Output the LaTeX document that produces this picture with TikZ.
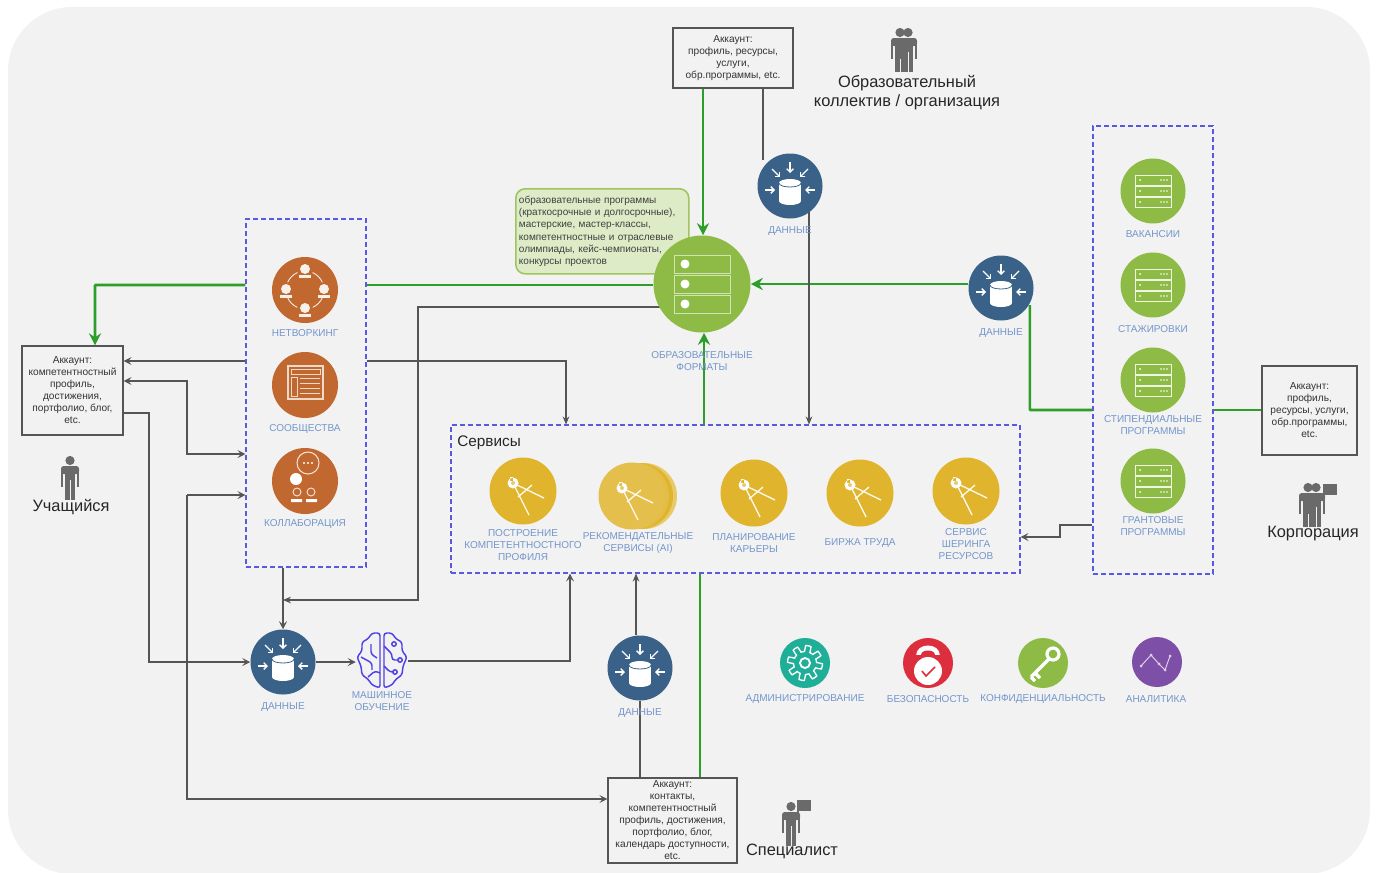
\documentclass[tikz,border=0pt]{standalone}
\usepackage{fontspec}
\setmainfont{Liberation Sans}
\usetikzlibrary{arrows.meta,backgrounds,calc}
\definecolor{bgc}{HTML}{F2F2F2}
\definecolor{gln}{HTML}{2E9E2A}
\definecolor{gry}{HTML}{555555}
\definecolor{lab}{HTML}{7396CC}
\definecolor{dsh}{HTML}{5A5AE0}
\definecolor{orng}{HTML}{C0682F}
\definecolor{yel}{HTML}{E0B42C}
\definecolor{grn}{HTML}{8DBB45}
\definecolor{blu}{HTML}{3A6187}
\definecolor{icog}{HTML}{6A6A6A}
\definecolor{brn}{HTML}{5040E8}
\definecolor{tealc}{HTML}{1FAE97}
\definecolor{redc}{HTML}{DC2E3C}
\definecolor{vio}{HTML}{7E4FA6}
\tikzset{
 x=0.75pt,y=-0.75pt,
 account/.style={draw=gry,line width=.9pt,fill=bgc,font=\fontsize{7.6}{9}\selectfont,text=black!80,align=center,inner sep=0pt},
 zone/.style={draw=dsh,line width=.8pt,dash pattern=on 3.5pt off 2.5pt,rectangle,inner sep=0pt},
 dot/.style={circle,inner sep=0pt,minimum size=#1*.75pt},
 lbl/.style={text=lab,font=\fontsize{7.5}{9}\selectfont,align=center,inner sep=0pt,yshift=-.75pt},
 big/.style={text=black!85,font=\fontsize{12.3}{13.6}\selectfont,align=center,inner sep=0pt,yshift=-1.2pt},
 gl/.style={draw=gln,line width=1.9pt,rounded corners=.5pt},
 gline/.style={gl,-{Stealth[length=9pt,width=9pt]}},
 pl/.style={draw=gry,line width=.9pt},
 oarr/.style={pl,-{Stealth[length=6pt,width=6pt,inset=2.5pt]}},
 sarr/.style={pl,-{Stealth[length=6pt,width=5pt]}},
 pics/db/.style={code={
   \fill[white] (-11,-3) rectangle (11,15);
   \fill[white] (0,15) ellipse[x radius=11,y radius=4];
   \fill[white] (0,-3) ellipse[x radius=11,y radius=4];
   \draw[blu,line width=.6pt] (-11,-3) .. controls (-11,2.3) and (11,2.3) .. (11,-3);
   \draw[white,line width=1pt,-{Straight Barb[length=2.5pt,width=5pt]}] (0,-24)--(0,-13);
   \draw[white,line width=1pt,-{Straight Barb[length=2.5pt,width=5pt]}] (-18,-17)--(-10,-9);
   \draw[white,line width=1pt,-{Straight Barb[length=2.5pt,width=5pt]}] (18,-17)--(10,-9);
   \draw[white,line width=1pt,-{Straight Barb[length=2.5pt,width=5pt]}] (-25,4)--(-15,4);
   \draw[white,line width=1pt,-{Straight Barb[length=2.5pt,width=5pt]}] (25,4)--(15,4);
 }},
 pics/srv/.style={code={
   \foreach \yy in {-16,-5,6}{
     \draw[white!85!grn,line width=.6pt] (-18,\yy) rectangle (18,\yy+10);
     \fill[white] (-13,\yy+5) circle (1);
     \foreach \xx in {8,11,14}{\fill[white] (\xx,\yy+5) circle (.9);}
   }
 }},
 pics/compass/.style={code={
   \draw[white!92!yel,line width=1pt] (-10,-8)--(6,24) (-10,-8)--(21,7) (-5,6)--(9,-6);
   \fill[white] (-10,-8) circle (5.5) (-13,-14) rectangle (-10,-10);
   \fill[yel!70!white] (-10,-8) circle (2);
 }},
 pics/person/.style={code={
   \fill[icog] (0,-17.5) circle (4.6);
   \fill[icog,rounded corners=2pt] (-9,-12) rectangle (9,-4);
   \fill[icog] (-9,-8) rectangle (-6.8,9);
   \fill[icog] (6.8,-8) rectangle (9,9);
   \fill[icog] (-5.2,-10) rectangle (5.2,22);
   \draw[bgc,line width=.5pt] (0,2)--(0,22);
 }},
 pics/flag/.style={code={
   \draw[icog,line width=.9pt] (0,0)--(0,-20);
   \fill[icog] (0,-20) rectangle (13,-9);
 }},
}
\begin{document}
\begin{tikzpicture}
\useasboundingbox (0,0) rectangle (1376,872);
% zones and boxes
\node[zone,minimum width=90pt,minimum height=261pt] (lz) at (306,393) {};
\node[zone,minimum width=90pt,minimum height=336pt] (rz) at (1153,350) {};
\node[zone,minimum width=426.75pt,minimum height=111pt] (sz) at (735.5,499) {};
\node[account,minimum width=75.75pt,minimum height=66.75pt] (ac1) at (72.5,390.5) {Аккаунт:\\компетентностный\\профиль,\\достижения,\\портфолио, блог,\\etc.};
\node[account,minimum width=90pt,minimum height=45pt] (ac2) at (733,58) {Аккаунт:\\профиль, ресурсы,\\услуги,\\обр.программы, etc.};
\node[account,minimum width=71.25pt,minimum height=66.75pt] (ac3) at (1309.5,410.5) {Аккаунт:\\профиль,\\ресурсы, услуги,\\обр.программы,\\etc.};
\node[account,minimum width=96.75pt,minimum height=63.75pt] (ac4) at (672.5,820.5) {Аккаунт:\\контакты,\\компетентностный\\профиль, достижения,\\портфолио, блог,\\календарь доступности,\\etc.};
% green note
\node[draw=grn!85!white,line width=1.2pt,fill=grn!30!white,rounded corners=7pt,minimum width=129.75pt,minimum height=63.75pt,inner sep=0pt,anchor=north west,text width=125pt,align=left,text=black!75,font=\fontsize{7.5}{9.1}\selectfont] (note) at (515,188) {образовательные программы\\(краткосрочные и долгосрочные),\\мастерские, мастер-классы,\\компетентностные и отраслевые\\олимпиады, кейс-чемпионаты,\\конкурсы проектов};
% format circle
\node[dot=97,fill=grn] (fmt) at (702,284) {};
\foreach \yy in {-29,-9,11}{
  \draw[white!60!grn,line width=.7pt] ($(fmt)+(-28,\yy)$) rectangle ($(fmt)+(28,\yy+18)$);
  \fill[white] ($(fmt)+(-17,\yy+9)$) circle (4.5);
}
\node[lbl] (fmtl) at (702,360) {ОБРАЗОВАТЕЛЬНЫЕ\\ФОРМАТЫ};
% orange
\node[dot=66,fill=orng] (net) at (305,290) {};
\node[lbl] (netl) at (305,332) {НЕТВОРКИНГ};
\draw[white!85!orng,line width=.7pt] (net) circle (19);
\foreach \xa/\ya in {0/-20,-19/0,19/0,0/19}{
  \fill[orng] ($(net)+(\xa,\ya)$) circle (8);
  \fill[white!90!orng] ($(net)+(\xa,\ya-1)$) circle (5);
  \fill[white!90!orng] ($(net)+(\xa-6,\ya+5)$) rectangle ($(net)+(\xa+6,\ya+8)$);
}
\node[dot=66,fill=orng] (com) at (305,385) {};
\node[lbl] (coml) at (305,428) {СООБЩЕСТВА};
\draw[white!75!orng,line width=.8pt] ($(com)+(-17,-19)$) rectangle ($(com)+(18,14)$);
\draw[white!75!orng,line width=.7pt] ($(com)+(-14,-16)$) rectangle ($(com)+(15,-11)$) ($(com)+(-14,-8)$) rectangle ($(com)+(-8,11)$);
\foreach \yy in {-7,-2,3,8}{\draw[white!75!orng,line width=.7pt] ($(com)+(-5,\yy)$) -- ($(com)+(15,\yy)$);}
\node[dot=66,fill=orng] (col) at (305,481) {};
\node[lbl] (coll) at (305,523) {КОЛЛАБОРАЦИЯ};
\draw[white!80!orng,line width=.8pt] ($(col)+(3,-18)$) circle (11);
\fill[white] ($(col)+(-9,-2)$) circle (6);
\foreach \xx in {-1,3,7}{\fill[white] ($(col)+(\xx,-18)$) circle (1.1);}
\draw[white!80!orng,line width=.7pt] ($(col)+(-8,11)$) circle (4) ($(col)+(6,11)$) circle (4);
\fill[white] ($(col)+(-14,18)$) rectangle ($(col)+(-3,21)$) ($(col)+(1,18)$) rectangle ($(col)+(12,21)$);
% data circles
\node[dot=65,fill=blu] (d1) at (283,662) {}; \pic at (d1) {db};
\node[lbl] (d1l) at (283,706) {ДАННЫЕ};
\node[dot=65,fill=blu] (d2) at (640,668) {}; \pic at (d2) {db};
\node[lbl] (d2l) at (640,712) {ДАННЫЕ};
\node[dot=65,fill=blu] (d3) at (790,186) {}; \pic at (d3) {db};
\node[lbl] (d3l) at (790,230) {ДАННЫЕ};
\node[dot=65,fill=blu] (d4) at (1001,288) {}; \pic at (d4) {db};
\node[lbl] (d4l) at (1001,332) {ДАННЫЕ};
% machine learning
\node[minimum width=39pt,minimum height=45pt,inner sep=0pt] (ml) at (382,660) {};
\begin{scope}[shift={(382,660)},line width=1.1pt,rounded corners=2pt]
 \draw[brn] (-2,-27)--(-10,-27)--(-14,-21)--(-20,-18)--(-20,-9)--(-25,-3)--(-21,6)--(-20,15)--(-14,19)--(-10,25)--(-2,28)--cycle;
 \draw[brn] (2,-27)--(10,-27)--(14,-21)--(20,-18)--(20,-9)--(25,-3)--(21,6)--(20,15)--(14,19)--(10,25)--(2,28)--cycle;
 \draw[brn] (-11,-16)--(-11,-6)--(-5,-2) (-21,-3)--(-10,3)--(-10,10) (-14,17)--(-7,11)--(-2,13);
 \draw[brn] (2,-14)--(10,-6)--(10,0)--(17,0) (2,6)--(8,12)--(12,12) (12,-16) circle (2.2) (18,0) circle (2.2) (13,12) circle (2.2);
\end{scope}
\node[lbl] (mll) at (382,700) {МАШИННОЕ\\ОБУЧЕНИЕ};
% services
\fill[yel!70!white] (644,496) circle (33);
\fill[yel] (640,496) circle (33);
\fill[yel!88!white] (636,496) circle (33);
\node[dot=67,fill=yel] (s1) at (523,491) {}; \pic at (s1) {compass};
\node[dot=67,fill=yel!85!white] (s2) at (632,496) {}; \pic at (s2) {compass};
\node[dot=67,fill=yel] (s3) at (754,493) {}; \pic at (s3) {compass};
\node[dot=67,fill=yel] (s4) at (860,493) {}; \pic at (s4) {compass};
\node[dot=67,fill=yel] (s5) at (966,491) {}; \pic at (s5) {compass};
\node[lbl] (s1l) at (523,544) {ПОСТРОЕНИЕ\\КОМПЕТЕНТНОСТНОГО\\ПРОФИЛЯ};
\node[lbl] (s2l) at (638,542) {РЕКОМЕНДАТЕЛЬНЫЕ\\СЕРВИСЫ (AI)};
\node[lbl] (s3l) at (754,542) {ПЛАНИРОВАНИЕ\\КАРЬЕРЫ};
\node[lbl] (s4l) at (860,542) {БИРЖА ТРУДА};
\node[lbl] (s5l) at (966,543) {СЕРВИС\\ШЕРИНГА\\РЕСУРСОВ};
\node[big,anchor=west,font=\fontsize{11.5}{13}\selectfont] (svc) at (457,441) {Сервисы};
% right column
\node[dot=65,fill=grn] (r1) at (1153,191) {}; \pic at (r1) {srv};
\node[dot=65,fill=grn] (r2) at (1153,285) {}; \pic at (r2) {srv};
\node[dot=65,fill=grn] (r3) at (1153,380) {}; \pic at (r3) {srv};
\node[dot=65,fill=grn] (r4) at (1153,481) {}; \pic at (r4) {srv};
\node[lbl] (r1l) at (1153,233) {ВАКАНСИИ};
\node[lbl] (r2l) at (1153,328) {СТАЖИРОВКИ};
\node[lbl] (r3l) at (1153,424) {СТИПЕНДИАЛЬНЫЕ\\ПРОГРАММЫ};
\node[lbl] (r4l) at (1153,525) {ГРАНТОВЫЕ\\ПРОГРАММЫ};
% bottom row
\node[dot=50,fill=tealc] (a1) at (805,663) {};
\node[lbl] (a1l) at (805,698) {АДМИНИСТРИРОВАНИЕ};
\draw[white,line width=1pt,shift={(a1)}] plot[variable=\t,domain=0:360,samples=145] ({cos(\t)*(14.5+3*max(min(3*sin(8*\t),1),-1))},{sin(\t)*(14.5+3*max(min(3*sin(8*\t),1),-1))}) -- cycle;
\draw[white,line width=1.4pt] (a1) circle (5);
\node[dot=50,fill=redc] (a2) at (928,663) {};
\node[lbl] (a2l) at (928,698) {БЕЗОПАСНОСТЬ};
\fill[white] ($(a2)+(-12,-7)$) .. controls ($(a2)+(-12,-21)$) and ($(a2)+(12,-21)$) .. ($(a2)+(12,-7)$) -- cycle;
\fill[redc] ($(a2)+(-7,-8)$) .. controls ($(a2)+(-7,-14)$) and ($(a2)+(7,-14)$) .. ($(a2)+(7,-8)$) -- cycle;
\fill[redc] ($(a2)+(-14,-8)$) rectangle ($(a2)+(14,-6)$);
\fill[white] ($(a2)+(0,8)$) circle (14);
\draw[redc,line width=1.2pt] ($(a2)+(-6,8)$)--($(a2)+(-2,13)$)--($(a2)+(7,4)$);
\node[dot=50,fill=grn] (a3) at (1043,663) {};
\node[lbl] (a3l) at (1043,698) {КОНФИДЕНЦИАЛЬНОСТЬ};
\draw[white,line width=2.6pt] ($(a3)+(6,-4)$) -- ($(a3)+(-12,14)$) ($(a3)+(-8,10)$)--($(a3)+(-3,15)$) ($(a3)+(-12,14)$)--($(a3)+(-8,18)$);
\draw[white,line width=2.4pt] ($(a3)+(10,-9)$) circle (6);
\node[dot=50,fill=vio] (a4) at (1157,662) {};
\node[lbl] (a4l) at (1156,698) {АНАЛИТИКА};
\draw[white!75!vio,line width=.7pt] ($(a4)+(-16,4)$)--($(a4)+(-6,-7)$)--($(a4)+(2,2)$)--($(a4)+(8,8)$)--($(a4)+(13,-6)$);
\foreach \xa/\ya in {-16/4,-6/-7,2/2,8/8,13/-6}{\fill[white!75!vio] ($(a4)+(\xa,\ya)$) circle (1.5);}
% people
\pic at (70,478) {person};
\node[big] (t1) at (71,505) {Учащийся};
\pic at (900,50) {person}; \pic at (908,50) {person};
\node[big] (t2) at (907,91) {Образовательный\\коллектив / организация};
\pic at (1308,505) {person}; \pic at (1316,505) {person}; \pic at (1324,504) {flag};
\node[big] (t3) at (1313,532) {Корпорация};
\pic at (791,824) {person}; \pic at (798,820) {flag};
\node[big] (t4) at (792,850) {Специалист};
% background and connectors
\begin{scope}[on background layer]
\fill[bgc,rounded corners=48pt] (8,7) rectangle (1370,874);
\draw[gline] (lz.west |- 0,285) -| (ac1.north -| 95,0);
\draw[gl] (lz.east |- 0,285) -- (fmt.west |- 0,285);
\draw[gline] (ac2.south -| 703,0) -- (fmt.north -| 703,0);
\draw[gline] (d4.west |- fmt.east) -- (fmt.east);
\draw[gl] (d4.east |- 0,305) ++(-4,0) |- (rz.west |- 0,410);
\draw[gl] (rz.east |- 0,410) -- (ac3.west |- 0,410);
\draw[gline] (sz.north -| 704,0) -- (fmt.south -| 704,0);
\draw[gl] (ac4.north -| 700,0) -- (sz.south -| 700,0);
\draw[oarr] (lz.west |- 0,361) -- (ac1.east |- 0,361);
\draw[oarr,{Stealth[length=6pt,width=6pt,inset=2.5pt]}-{Stealth[length=6pt,width=6pt,inset=2.5pt]},rounded corners=0pt] (ac1.east |- 0,381) -| (187,454) -- (lz.west |- 0,454);
\draw[oarr] (187,495) -- (lz.west |- 0,495);
\draw[oarr] (187,495) |- (ac4.west |- 0,799);
\draw[oarr] (ac1.east |- 0,413) -| (149,662) -- (d1.west);
\draw[sarr] (lz.east |- 0,361) -| (sz.north -| 566,0);
\draw[oarr] (lz.south -| 283,0) -- (d1.north);
\draw[sarr] (fmt.west |- 0,307) ++(8,0) -| (418,600) -- (283,600);
\draw[oarr] (d1.east) -- (ml.west |- d1.east);
\draw[oarr] (ml.east |- 0,661) -| (sz.south -| 570,0);
\draw[sarr] (d2.north -| 636,0) -- (sz.south -| 636,0);
\draw[pl] (ac4.north -| d2) -- (d2.south);
\draw[pl] (ac2.south -| 763,0) -- (763,160);
\draw[sarr] (809,210) -- (sz.north -| 809,0);
\draw[oarr] (rz.west |- 0,525) -| (1060,537) -- (sz.east |- 0,537);
\end{scope}
\end{tikzpicture}
\end{document}
